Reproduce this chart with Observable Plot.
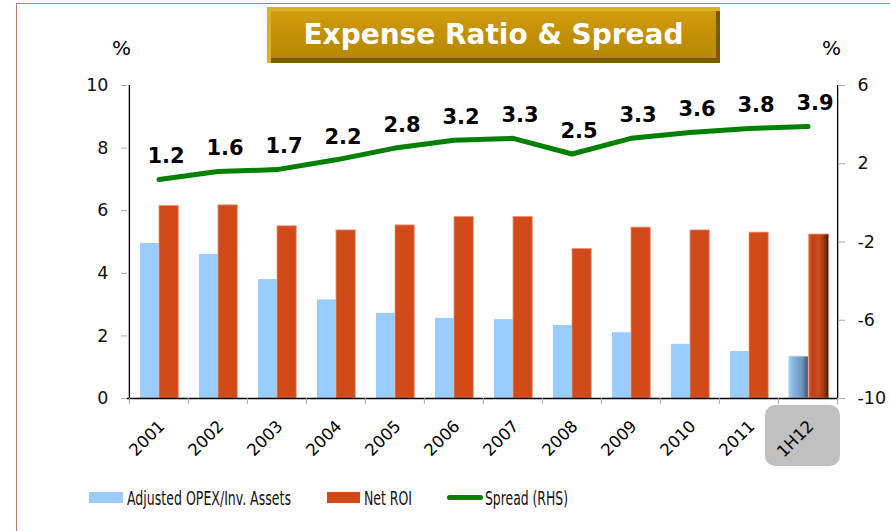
<!DOCTYPE html>
<html><head><meta charset="utf-8">
<script src="https://cdn.jsdelivr.net/npm/d3@7"></script>
<script src="https://cdn.jsdelivr.net/npm/@observablehq/plot@0.6"></script>
<style>
html,body{margin:0;padding:0;background:#fff;}
body{width:890px;height:531px;position:relative;overflow:hidden;font-family:"DejaVu Sans",Verdana,sans-serif;}
#frame{position:absolute;left:16px;top:3px;width:900px;height:600px;border-left:1.5px solid #c47a62;border-top:1.5px solid #c47a62;}
#hbox{position:absolute;left:765px;top:405px;width:75px;height:61px;background:#c0c0c0;border-radius:10px;}
#chart{position:absolute;left:0;top:0;}
#chart svg{background:transparent;}
#title{position:absolute;left:267px;top:7px;width:453px;height:56px;box-sizing:border-box;
 background:linear-gradient(#d3a010,#c49107 45%,#b58703);
 box-shadow:inset 4px 4px 0 #ddb02a, inset -4px -5px 0 #7a5b02;
 color:#fff;font-weight:bold;font-size:28px;line-height:56px;text-align:center;font-family:"DejaVu Sans",Verdana,sans-serif;}
.pct{position:absolute;top:36px;font-size:20px;}
#legend{position:absolute;top:485px;left:0;width:890px;height:26px;font-family:"DejaVu Sans Condensed","DejaVu Sans",sans-serif;font-size:20px;color:#111;}
#legend .sw{position:absolute;}
#legend .lb{position:absolute;top:0;line-height:26px;white-space:nowrap;transform-origin:0 50%;}
</style></head>
<body>
<div id="frame"></div>
<div id="hbox"></div>
<div id="chart"></div>
<div id="title">Expense Ratio &amp; Spread</div>
<div class="pct" style="left:112px">%</div>
<div class="pct" style="left:822px">%</div>
<div id="legend">
  <div class="sw" style="left:89px;top:7px;width:34px;height:11px;background:#99ccff"></div>
  <div class="lb" data-w="164" style="left:127px">Adjusted OPEX/Inv. Assets</div>
  <div class="sw" style="left:327px;top:7px;width:33px;height:11px;background:#d24a18"></div>
  <div class="lb" data-w="48" style="left:364px">Net ROI</div>
  <div class="sw" style="left:447px;top:10px;width:36px;height:5px;background:#008000;border-radius:3px"></div>
  <div class="lb" data-w="83" style="left:485px">Spread (RHS)</div>
</div>
<script>
const years = ["2001","2002","2003","2004","2005","2006","2007","2008","2009","2010","2011","1H12"];
const opex  = [4.95, 4.6, 3.8, 3.15, 2.72, 2.56, 2.52, 2.33, 2.1, 1.73, 1.5, 1.34];
const roi   = [6.15, 6.17, 5.5, 5.37, 5.53, 5.8, 5.8, 4.78, 5.46, 5.37, 5.3, 5.24];
const spread = [1.2, 1.6, 1.7, 2.2, 2.8, 3.2, 3.3, 2.5, 3.3, 3.6, 3.8, 3.9];
const leftTicks = [0, 2, 4, 6, 8, 10];
const rightTicks = [-10, -6, -2, 2, 6];
const rightDomain = [-10, 6];

const toLeft = r => (r - rightDomain[0]) / (rightDomain[1] - rightDomain[0]) * 10;
const fromLeft = v => rightDomain[0] + v / 10 * (rightDomain[1] - rightDomain[0]);

const rows = years.map((y, i) => ({year: y, opex: opex[i], roi: roi[i], spread: spread[i]}));
const last = years[years.length - 1];
const normal = rows.filter(d => d.year !== last);
const special = rows.filter(d => d.year === last);

const W = 890, H = 531, mL = 127, mR = 52, mT = 85, mB = 133;
const step = (W - mL - mR) / years.length;

const plot = Plot.plot({
  width: W, height: H,
  marginLeft: mL, marginRight: mR, marginTop: mT, marginBottom: mB,
  style: {background: "transparent", fontFamily: "'DejaVu Sans', Verdana, sans-serif", overflow: "visible"},
  x: {domain: years, padding: 0, axis: null},
  y: {domain: [0, 10]},
  marks: [
    Plot.barY(normal, {x: "year", y: "opex", fill: "#99ccff", insetLeft: 11, insetRight: step - 30}),
    Plot.barY(normal, {x: "year", y: "roi", fill: "#d24a18", stroke: "#e8957a", strokeWidth: 0.8, insetLeft: 30, insetRight: step - 49.5}),
    Plot.barY(special, {x: "year", y: "opex", fill: "url(#gBlue)", stroke: "#cfe4f7", strokeWidth: 0.8, insetLeft: 10.5, insetRight: step - 30.5}),
    Plot.barY(special, {x: "year", y: "roi", fill: "url(#gRed)", stroke: "#f0a080", strokeWidth: 0.8, insetLeft: 30.5, insetRight: step - 51}),
    Plot.ruleY([0], {stroke: "black", strokeWidth: 1.3}),
    Plot.ruleX([years[0]], {y1: 0, y2: 10, dx: -step / 2, stroke: "black", strokeWidth: 1.3}),
    Plot.ruleX([last], {y1: 0, y2: 10, dx: step / 2, stroke: "black", strokeWidth: 1.3}),
    Plot.ruleX(years, {y1: 0, y2: -0.2, dx: -step / 2, stroke: "#aaa"}),
    Plot.ruleX([last], {y1: 0, y2: -0.2, dx: step / 2, stroke: "#aaa"}),
    Plot.axisY({ticks: leftTicks, tickSize: 6, tickPadding: 13, fontSize: 17.5, stroke: "#aaa", fill: "#111", label: null, tickFormat: d => String(d)}),
    Plot.axisY({anchor: "right", ticks: rightTicks.map(toLeft), tickSize: 6, tickPadding: 13, fontSize: 17.5, stroke: "#aaa", fill: "#111", label: null,
      tickFormat: v => String(Math.round(fromLeft(v)))}),
    Plot.line(rows, {x: "year", y: d => toLeft(d.spread), stroke: "#008000", strokeWidth: 5, strokeLinecap: "round", strokeLinejoin: "round"}),
    Plot.text(rows, {x: "year", y: d => toLeft(d.spread), text: d => d.spread.toFixed(1), dy: -23, dx: 7, fontWeight: "bold", fontSize: 21, fill: "#000"}),
    Plot.text(rows, {x: "year", y: 0, text: "year", rotate: -45, textAnchor: "end", dy: 25, dx: 3, fontSize: 16.5, fill: "#000"})
  ]
});

const ns = "http://www.w3.org/2000/svg";
const defs = document.createElementNS(ns, "defs");
defs.innerHTML = `
<linearGradient id="gBlue" x1="0" x2="1" y1="0" y2="0">
  <stop offset="0" stop-color="#a8d0f5"/><stop offset="0.25" stop-color="#86b4e2"/>
  <stop offset="0.7" stop-color="#6a94c2"/><stop offset="1" stop-color="#34506f"/>
</linearGradient>
<linearGradient id="gRed" x1="0" x2="1" y1="0" y2="0">
  <stop offset="0" stop-color="#e2602a"/><stop offset="0.2" stop-color="#b8401a"/>
  <stop offset="0.5" stop-color="#d04a1a"/><stop offset="0.75" stop-color="#a23812"/><stop offset="1" stop-color="#3e1505"/>
</linearGradient>`;
plot.insertBefore(defs, plot.firstChild);
document.getElementById("chart").appendChild(plot);

document.querySelectorAll("#legend .lb").forEach(el => {
  const target = +el.dataset.w;
  const w = el.getBoundingClientRect().width;
  if (w > 0) el.style.transform = `scaleX(${target / w})`;
});
</script>
</body></html>
